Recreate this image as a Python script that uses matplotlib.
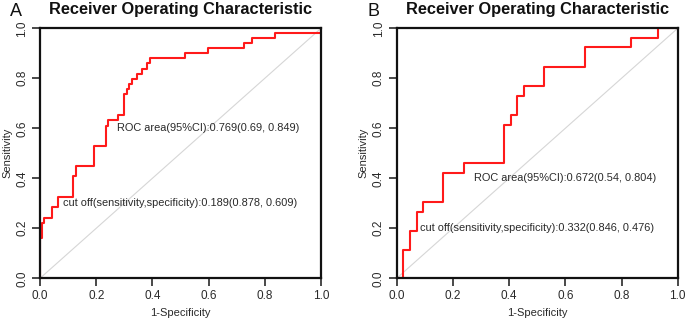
import matplotlib
matplotlib.use("Agg")
import matplotlib.pyplot as plt

# ROC curve corner points
fpr_a = [0, 0, 0.006, 0.015, 0.044, 0.063, 0.116, 0.128, 0.192, 0.235, 0.242, 0.279,
         0.299, 0.308, 0.317, 0.326, 0.345, 0.364, 0.381, 0.39, 0.517, 0.599, 0.727,
         0.754, 0.837, 1.0]
tpr_a = [0, 0.16, 0.222, 0.242, 0.284, 0.325, 0.408, 0.449, 0.53, 0.61, 0.633, 0.653,
         0.736, 0.756, 0.776, 0.796, 0.817, 0.837, 0.86, 0.88, 0.90, 0.92, 0.94,
         0.96, 0.98, 1.0]

fpr_b = [0, 0.021, 0.047, 0.071, 0.095, 0.166, 0.239, 0.381, 0.406, 0.428, 0.453,
         0.524, 0.669, 0.835, 0.930, 1.0]
tpr_b = [0, 0.113, 0.19, 0.266, 0.305, 0.422, 0.46, 0.613, 0.653, 0.73, 0.769,
         0.846, 0.924, 0.962, 1.0, 1.0]

auc_text = ["ROC area(95%CI):0.769(0.69, 0.849)", "ROC area(95%CI):0.672(0.54, 0.804)"]
cut_text = ["cut off(sensitivity,specificity):0.189(0.878, 0.609)",
            "cut off(sensitivity,specificity):0.332(0.846, 0.476)"]
auc_pos = [(0.6, 0.6), (0.6, 0.4)]
cut_pos = [(0.5, 0.3), (0.5, 0.2)]
panel_labels = ["A", "B"]
ticks = [0.0, 0.2, 0.4, 0.6, 0.8, 1.0]

plt.rcParams['font.family'] = ['Liberation Sans', 'DejaVu Sans']
txt = '#2a2a2a'

fig = plt.figure(figsize=(6.85, 3.21), dpi=100)
lefts = [40 / 685, 396.7 / 685]
curves = [(fpr_a, tpr_a), (fpr_b, tpr_b)]

for i, left in enumerate(lefts):
    ax = fig.add_axes([left, 42.7 / 321, 281 / 685, 250 / 321])
    ax.plot([0, 1], [0, 1], color='#d6d6d6', lw=0.8)
    fpr, tpr = curves[i]
    ax.step(fpr, tpr, where='post', color='#ff1a1a', lw=1.5)
    ax.set_xlim(0, 1)
    ax.set_ylim(0, 1)
    ax.set_xticks(ticks)
    ax.set_yticks(ticks)
    ax.set_xticklabels([f"{t:.1f}" for t in ticks])
    ax.set_yticklabels([f"{t:.1f}" for t in ticks], rotation=90, va='center')
    ax.tick_params(length=6, width=1.2, labelsize=8.5, colors=txt, pad=2.5)
    for s in ax.spines.values():
        s.set_linewidth(1.6)
        s.set_color('#111111')
    ax.set_xlabel("1-Specificity", fontsize=8, color=txt, labelpad=4)
    ax.set_ylabel("Sensitivity", fontsize=8, color=txt, labelpad=3)
    ax.set_title("Receiver Operating Characteristic", fontsize=11.8, fontweight='bold',
                 color='#111111', pad=10)
    ax.text(*auc_pos[i], auc_text[i], ha='center', va='center', fontsize=7.9, color=txt)
    ax.text(*cut_pos[i], cut_text[i], ha='center', va='center', fontsize=7.9, color=txt)

fig.text(16 / 685, 1 - 11 / 321, panel_labels[0], fontsize=13, color='#111111',
         ha='center', va='center')
fig.text(374 / 685, 1 - 11 / 321, panel_labels[1], fontsize=13, color='#111111',
         ha='center', va='center')

fig.savefig("out.png", dpi=100)
